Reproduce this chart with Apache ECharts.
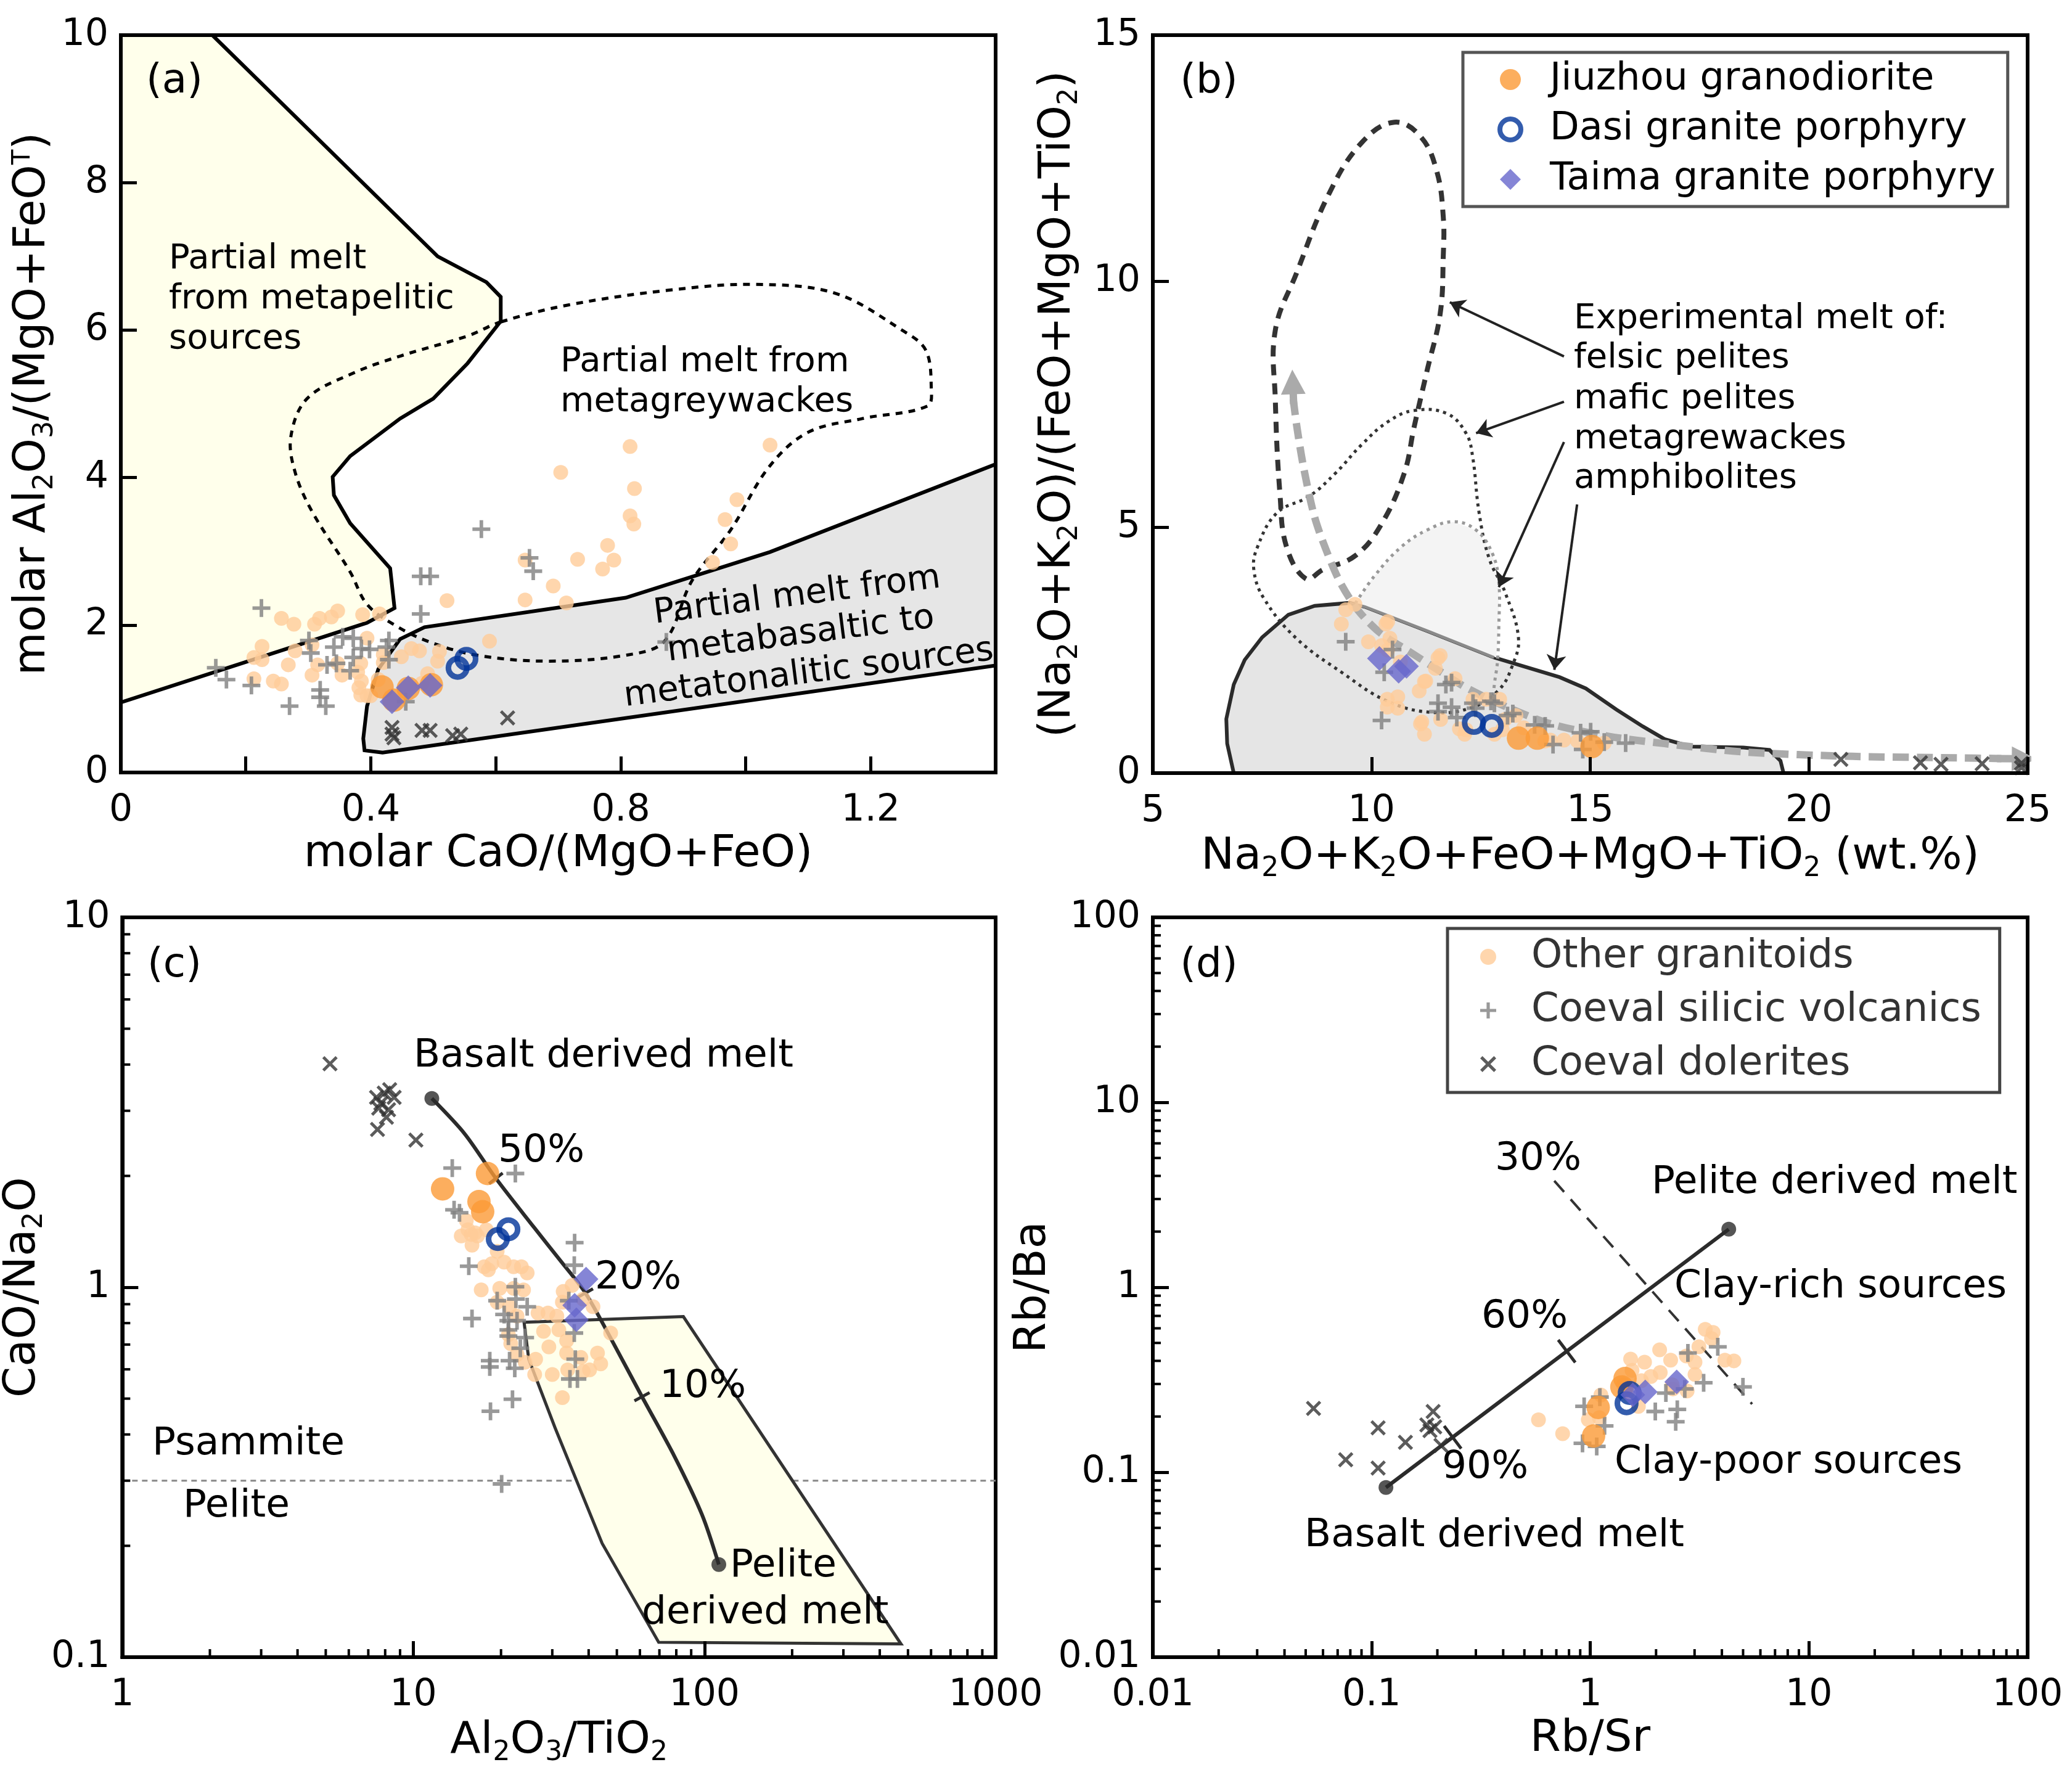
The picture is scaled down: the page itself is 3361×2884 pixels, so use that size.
<!DOCTYPE html>
<html><head><meta charset="utf-8">
<script src="https://cdn.jsdelivr.net/npm/echarts@6/dist/echarts.min.js"></script>
<style>html,body{margin:0;padding:0;background:#fff}#chart{width:3361px;height:2884px}</style>
</head><body><div id="chart"></div>
<script>
const FONT = 'DejaVu Sans';

// ---------------- Panel (a) data ----------------
const aOther = [[0.815,4.42],[1.039,4.44],[0.704,4.07],[0.822,3.85],[0.986,3.70],[0.815,3.48],[0.821,3.37],[0.967,3.43],[0.976,3.10],[0.779,3.08],[0.731,2.89],[0.789,2.88],[0.771,2.76],[0.947,2.85],[0.647,2.88],[0.692,2.53],[0.522,2.33],[0.647,2.34],[0.713,2.30],[0.590,1.78],[0.347,2.19],[0.318,2.09],[0.337,2.11],[0.387,2.14],[0.414,2.15],[0.257,2.09],[0.277,2.01],[0.310,2.01],[0.226,1.71],[0.213,1.56],[0.226,1.53],[0.279,1.65],[0.306,1.73],[0.268,1.46],[0.315,1.46],[0.213,1.27],[0.244,1.24],[0.257,1.20],[0.306,1.32],[0.354,1.32],[0.385,1.24],[0.412,1.26],[0.420,1.60],[0.394,1.82],[0.449,1.57],[0.465,1.68],[0.478,1.65],[0.510,1.64],[0.491,1.34],[0.394,1.04],[0.381,1.15],[0.420,1.49],[0.347,1.48],[0.384,1.48],[0.379,1.36],[0.384,1.05],[0.400,1.04],[0.507,1.51],[0.482,1.21]];
const aVolc = [[0.577,3.30],[0.654,2.91],[0.660,2.73],[0.480,2.66],[0.495,2.66],[0.480,2.15],[0.225,2.23],[0.873,1.77],[0.301,1.79],[0.355,1.84],[0.372,1.82],[0.429,1.79],[0.425,1.70],[0.341,1.70],[0.385,1.68],[0.398,1.67],[0.304,1.62],[0.372,1.56],[0.429,1.53],[0.330,1.46],[0.345,1.48],[0.367,1.38],[0.152,1.42],[0.169,1.26],[0.209,1.18],[0.319,1.12],[0.270,0.90],[0.328,0.90],[0.456,0.96],[0.319,1.02]];
const aDol = [[0.619,0.74],[0.434,0.61],[0.434,0.52],[0.437,0.47],[0.482,0.57],[0.495,0.57],[0.531,0.50],[0.544,0.52]];
const aJiu = [[0.418,1.16],[0.437,0.98],[0.460,1.14],[0.497,1.19]];
const aDasi = [[0.539,1.42],[0.553,1.54]];
const aTaima = [[0.434,0.96],[0.460,1.15],[0.495,1.18]];
const aPeliticField = [[0,10],[0.1465,10],[0.507,7.0],[0.585,6.65],[0.608,6.45],[0.608,6.12],[0.555,5.55],[0.50,5.07],[0.447,4.80],[0.367,4.29],[0.339,4.01],[0.341,3.76],[0.367,3.38],[0.431,2.77],[0.438,2.23],[0.394,2.03],[0,0.95]];
const aBasalticField = [[0.419,0.27],[0.39,0.30],[0.388,0.46],[0.394,0.90],[0.412,1.40],[0.447,1.81],[0.486,1.97],[0.808,2.37],[1.039,2.99],[1.4,4.18],[1.4,1.45]];
const aGreywackeField = [[0.608,6.11],[0.716,6.34],[0.876,6.54],[1.015,6.62],[1.143,6.50],[1.25,6.0],[1.288,5.73],[1.297,5.22],[1.291,4.97],[1.187,4.80],[1.099,4.61],[1.037,4.14],[0.976,3.29],[0.914,2.6],[0.87,1.78],[0.808,1.59],[0.683,1.51],[0.570,1.59],[0.491,1.78],[0.438,2.0],[0.394,2.28],[0.367,2.72],[0.306,3.54],[0.279,4.07],[0.272,4.55],[0.298,5.07],[0.373,5.42],[0.448,5.65],[0.555,5.92]];

// ---------------- Panel (b) data ----------------
const bOther = [[9.41,3.32],[9.62,3.43],[9.31,3.03],[10.33,3.03],[9.93,2.67],[10.42,2.74],[10.23,2.59],[11.52,2.34],[11.46,2.13],[10.66,2.26],[11.91,1.92],[11.21,1.86],[11.09,1.67],[10.60,1.55],[10.36,1.50],[10.60,1.32],[10.36,1.34],[11.15,1.04],[11.21,0.79],[11.58,1.09],[12.01,0.90],[12.13,0.79],[12.32,1.50],[12.62,1.50],[12.93,1.50],[12.81,0.79],[13.05,1.09],[13.30,1.17],[13.48,0.92],[14.09,0.67],[14.40,0.67],[14.71,0.65],[15.32,0.61],[10.37,3.08],[10.37,2.50],[11.57,2.39],[11.24,1.87],[11.12,1.00],[12.16,0.88],[12.99,0.88],[13.96,0.65]];
const bVolc = [[9.41,2.67],[10.29,2.05],[10.48,2.51],[11.70,1.80],[11.83,1.84],[11.52,1.42],[11.83,1.34],[11.52,1.25],[11.95,1.13],[12.32,1.42],[12.38,1.32],[12.81,1.42],[13.11,1.17],[13.23,1.21],[10.23,1.07],[13.73,0.98],[13.97,0.96],[14.15,0.58],[14.83,0.48],[15.01,0.84],[15.32,0.63],[15.81,0.61],[12.73,1.46],[14.78,0.82]];
const bDol = [[20.73,0.28],[22.55,0.21],[23.02,0.18],[23.96,0.19],[24.86,0.20],[24.86,0.11]];
const bJiu = [[13.36,0.71],[13.79,0.71],[15.04,0.54]];
const bDasi = [[12.34,1.02],[12.75,0.96]];
const bTaima = [[10.18,2.33],[10.62,2.07],[10.80,2.17]];
const bAmphField = [[6.85,0],[6.70,0.6],[6.68,1.1],[6.85,1.8],[7.1,2.3],[7.5,2.76],[8.1,3.22],[8.7,3.4],[9.5,3.46],[9.85,3.38],[11.3,2.88],[12.8,2.35],[14.3,1.95],[14.9,1.72],[15.6,1.29],[16.2,0.95],[16.7,0.69],[17.3,0.54],[18.5,0.52],[19.1,0.47],[19.35,0.25],[19.42,0]];
const bAmphLight = [[9.5,3.46],[9.85,3.38],[11.3,2.88],[12.8,2.35]];
const bFelsicField = [[8.5,3.95],[8.06,4.59],[7.91,5.63],[7.8,7.6],[7.8,9.0],[8.28,10.15],[9.03,11.78],[9.78,12.82],[10.52,13.23],[11.12,12.94],[11.49,12.24],[11.64,11.31],[11.64,10.5],[11.57,9.34],[11.27,8.18],[10.97,7.02],[10.75,6.10],[10.22,5.05],[9.63,4.42],[8.88,4.13]];
const bMaficField = [[10.97,7.37],[11.72,7.31],[12.16,6.91],[12.31,6.44],[12.46,5.29],[12.69,4.36],[13.06,3.66],[13.36,2.74],[13.21,2.16],[12.91,1.69],[12.31,1.34],[11.42,1.23],[10.37,1.46],[9.33,2.04],[8.28,2.74],[7.54,3.55],[7.31,4.13],[7.39,4.59],[7.84,5.29],[8.58,5.63],[9.18,6.10],[9.78,6.68],[10.37,7.14]];
const bGreywackeFill = [[9.63,3.45],[10.07,4.01],[10.67,4.59],[11.27,4.94],[11.87,5.11],[12.39,4.94],[12.76,4.47],[12.91,3.89],[12.91,2.97],[12.85,2.35],[11.3,2.88],[9.85,3.38]];
const bGreywackeLine = [[9.63,3.45],[10.07,4.01],[10.67,4.59],[11.27,4.94],[11.87,5.11],[12.39,4.94],[12.76,4.47],[12.91,3.89],[12.91,2.97],[12.88,2.27],[12.81,1.81],[12.76,1.34]];
const bTrendArrow = [[8.21,7.6],[8.3,7.0],[8.45,6.2],[8.7,5.2],[9.0,4.45],[9.3,3.85],[9.7,3.3],[10.2,2.85],[10.9,2.45],[11.6,2.05],[12.2,1.72],[13.1,1.34],[14.1,1.0],[15.4,0.75],[16.7,0.6],[18.5,0.43],[21,0.34],[23.4,0.31],[24.4,0.295]];
const bTrendHeads = [[[8.22,7.5],[8.2,7.95]],[[24.3,0.295],[24.92,0.29]]];
const bPointers = [[[14.4,8.47],[11.79,9.57]],[[14.4,7.55],[12.39,6.91]],[[14.4,6.73],[12.91,3.78]],[[14.7,5.46],[14.18,2.10]]];

// ---------------- Panel (c) data ----------------
const cOther = [[15.2,1.514],[14.6,1.376],[15.8,1.389],[16.3,1.403],[15.9,1.299],[17.8,1.43],[19.4,1.25],[17.5,1.136],[18.6,1.158],[20.5,1.169],[22.1,1.136],[23.5,1.136],[24.6,1.093],[17.1,0.984],[19.8,0.993],[22.1,0.993],[23.9,0.984],[19.4,0.911],[21.4,0.886],[26.8,0.852],[29.0,0.852],[31.1,0.836],[32.7,0.974],[32.5,0.911],[35.1,1.012],[38.3,0.929],[41.4,0.886],[28.0,0.760],[31.6,0.767],[29.2,0.690],[33.6,0.717],[33.6,0.664],[37.6,0.646],[42.9,0.664],[44.0,0.621],[47.6,0.752],[26.3,0.639],[24.2,0.627],[26.1,0.581],[30.0,0.581],[33.9,0.598],[38.3,0.592],[40.3,0.598],[32.5,0.503],[21.2,0.745],[21.6,0.704],[22.7,0.658],[15.4,1.43],[16.6,1.376],[18.1,1.114],[22.7,0.836]];
const cVolc = [[13.6,2.10],[22.4,2.03],[13.8,1.62],[14.4,1.59],[35.8,1.32],[35.7,1.147],[15.5,1.14],[22.4,1.003],[19.4,0.92],[22.5,0.929],[24.6,0.886],[34.2,0.92],[15.9,0.823],[20.5,0.844],[21.2,0.812],[22.7,0.812],[21.2,0.767],[21.2,0.738],[24.2,0.731],[23.3,0.684],[35.7,0.752],[18.3,0.633],[18.3,0.609],[21.4,0.633],[22.3,0.604],[36.0,0.639],[34.5,0.565],[36.6,0.565],[21.9,0.498],[18.4,0.462],[20.1,0.294]];
const cDol = [[5.17,4.02],[8.29,3.42],[7.94,3.35],[7.47,3.26],[8.59,3.26],[7.73,3.14],[8.22,3.02],[7.60,3.05],[8.08,2.88],[7.53,2.67],[10.2,2.50]];
const cJiu = [[17.97,2.03],[12.6,1.845],[16.8,1.705],[17.3,1.60]];
const cDasi = [[21.2,1.435],[19.5,1.35]];
const cTaima = [[39.2,1.052],[35.8,0.894],[36.3,0.817]];
const cPeliteField = [[24.0,0.804],[84.6,0.833],[473,0.1086],[69.6,0.1097],[44.5,0.203],[30.7,0.416],[24.9,0.64]];
const cMixCurve = [[11.57,3.24],[15,2.6],[19.2,1.97],[26,1.45],[32,1.18],[39,0.965],[48,0.72],[61,0.506],[79,0.348],[98,0.243],[112,0.178]];
const cEndMembers = [[11.57,3.24],[112,0.178]];
const cCurveTicks = [[19.2,1.97,26,1.45],[39,0.965,48,0.72],[61,0.506,79,0.348]];
const cBoundary = [[1,0.3],[1000,0.3]];
const cXMinor = [2,3,4,5,6,7,8,9,20,30,40,50,60,70,80,90,200,300,400,500,600,700,800,900];
const cYMinor = [0.2,0.3,0.4,0.5,0.6,0.7,0.8,0.9,2,3,4,5,6,7,8,9];

// ---------------- Panel (d) data ----------------
const dOther = [[0.58,0.192],[0.748,0.1616],[1.53,0.409],[2.077,0.4585],[2.332,0.4036],[3.357,0.5921],[3.646,0.5699],[3.585,0.5278],[3.141,0.4766],[2.751,0.4247],[3.014,0.3934],[4.128,0.4036],[3.014,0.3375],[2.774,0.275],[2.39,0.2821],[1.894,0.329],[1.715,0.3126],[1.553,0.3552],[1.772,0.3936],[2.09,0.346],[1.478,0.268],[1.66,0.227],[1.119,0.2613],[1.10,0.1972],[0.98,0.1922],[1.419,0.297],[2.37,0.297],[4.54,0.40]];
const dVolc = [[0.938,0.227],[1.107,0.2547],[1.163,0.178],[1.071,0.1379],[0.922,0.1433],[1.984,0.213],[2.501,0.2186],[2.46,0.1874],[3.831,0.4766],[4.993,0.2894],[2.797,0.4414],[3.301,0.3046],[2.706,0.2821],[2.218,0.268]];
const dDol = [[0.0543,0.2213],[0.1072,0.1737],[0.0762,0.1168],[0.1072,0.1054],[0.1429,0.1451],[0.1913,0.213],[0.179,0.1804],[0.1945,0.1758],[0.185,0.168],[0.2078,0.1397]];
const dJiu = [[1.443,0.321],[1.395,0.289],[1.088,0.224],[1.036,0.157]];
const dDasi = [[1.516,0.268],[1.466,0.236]];
const dTaima = [[1.566,0.262],[1.785,0.272],[2.485,0.308]];
const dMixLine = [[0.1164,0.0827],[4.3,2.06]];
const dCurveTicks = [[0.235,0.1545,4.3,2.06],[0.781,0.451,4.3,2.06]];
const dClayLine = [[0.685,3.76],[5.5,0.2336]];
const dMinor = [0.02,0.03,0.04,0.05,0.06,0.07,0.08,0.09,0.2,0.3,0.4,0.5,0.6,0.7,0.8,0.9,2,3,4,5,6,7,8,9,20,30,40,50,60,70,80,90];

// ---------------- styles ----------------
const PLUS = 'path://M4,0H6V4H10V6H6V10H4V6H0V4H4Z';
const CROSS = 'path://M1.4,0L5,3.6L8.6,0L10,1.4L6.4,5L10,8.6L8.6,10L5,6.4L1.4,10L0,8.6L3.6,5L0,1.4Z';
const STY = {
  'Other granitoids': {symbol:'circle', symbolSize:24, itemStyle:{color:'#FFCC99'}},
  'Coeval silicic volcanics': {symbol:PLUS, symbolSize:29, itemStyle:{color:'#808080'}},
  'Coeval dolerites': {symbol:CROSS, symbolSize:25, itemStyle:{color:'#333333'}},
  'Jiuzhou granodiorite': {symbol:'circle', symbolSize:38, itemStyle:{color:'#FB9A36'}},
  'Dasi granite porphyry': {symbol:'circle', symbolSize:30, itemStyle:{color:'rgba(255,255,255,0)', borderColor:'#003399', borderWidth:9}},
  'Taima granite porphyry': {symbol:'diamond', symbolSize:40, itemStyle:{color:'#6666CC'}}
};
function sc(gi, name, data) {
  const s = JSON.parse(JSON.stringify(STY[name]));
  return Object.assign({type:'scatter', name, xAxisIndex:gi, yAxisIndex:gi, data, z:3, silent:true}, s);
}
function shape(gi, pts, style, closed, smooth, z) {
  return {type:'custom', xAxisIndex:gi, yAxisIndex:gi, data:pts, silent:true, z: z||1, clip:true,
    renderItem: function(params, api) {
      if (params.dataIndex !== 0) return null;
      const points = pts.map(p => api.coord(p));
      return {type: closed ? 'polygon' : 'polyline', shape:{points, smooth: smooth||0}, style: style};
    }};
}
function minorTicks(gi, vals, axis, fixed, len) {
  return {type:'custom', xAxisIndex:gi, yAxisIndex:gi, silent:true, z:11, clip:false,
    data: vals.map(v => axis === 'x' ? [v, fixed] : [fixed, v]),
    renderItem: function(params, api) {
      const c = api.coord([api.value(0), api.value(1)]);
      const sh = axis === 'x' ? {x1:c[0], y1:c[1], x2:c[0], y2:c[1]-len} : {x1:c[0], y1:c[1], x2:c[0]+len, y2:c[1]};
      return {type:'line', shape:sh, style:{stroke:'#000', lineWidth:4}};
    }};
}
function curveTicks(gi, items, len) {
  return {type:'custom', xAxisIndex:gi, yAxisIndex:gi, silent:true, z:2, data:items,
    encode:{x:0, y:1},
    renderItem: function(params, api) {
      const p1 = api.coord([api.value(0), api.value(1)]);
      const p2 = api.coord([api.value(2), api.value(3)]);
      let dx = p2[0]-p1[0], dy = p2[1]-p1[1];
      const L = Math.sqrt(dx*dx+dy*dy); dx/=L; dy/=L;
      const px = -dy*len/2, py = dx*len/2;
      return {type:'line', shape:{x1:p1[0]-px, y1:p1[1]-py, x2:p1[0]+px, y2:p1[1]+py}, style:{stroke:'#2b2b2b', lineWidth:5}};
    }};
}

const RICH = {
  n:{fontFamily:FONT, fontSize:72, color:'#000', verticalAlign:'bottom', padding:[0,0,6,0]},
  s:{fontFamily:FONT, fontSize:44, color:'#000', verticalAlign:'bottom'},
  t:{fontFamily:FONT, fontSize:40, color:'#000', verticalAlign:'top'}
};
function logFmt(v){ return String(parseFloat(Number(v).toPrecision(4))); }
function mkAxis(gi, type, dir, o) {
  const base = {
    gridIndex:gi, type, z:10, nameLocation:'middle',
    axisLine:{show:true, onZero:false, lineStyle:{color:'#000', width:6}},
    axisTick:{show:true, inside:true, length:26, lineStyle:{color:'#000', width:5}},
    splitLine:{show:false},
    axisLabel:{fontFamily:FONT, fontSize:60, color:'#000', margin: dir === 'x' ? 32 : 20},
    nameTextStyle:{fontFamily:FONT, fontSize:72, color:'#000', rich:RICH}
  };
  if (type === 'log') { base.logBase = 10; base.axisLabel.formatter = logFmt; }
  return Object.assign(base, o);
}

const grids = [
  {left:196, top:57, width:1419, height:1196},
  {left:1870, top:57, width:1419, height:1197},
  {left:196, top:1488, width:1419, height:1200},
  {left:1870, top:1488, width:1419, height:1200}
].map(g => Object.assign(g, {show:true, borderColor:'#000', borderWidth:6, backgroundColor:'rgba(0,0,0,0)'}));

const xAxes = [
  mkAxis(0,'value','x',{min:0, max:1.4, interval:0.2, name:'{n|molar CaO/(MgO+FeO)}', nameGap:97}),
  mkAxis(1,'value','x',{min:5, max:25, interval:5, name:'{n|Na}{s|2}{n|O+K}{s|2}{n|O+FeO+MgO+TiO}{s|2}{n| (wt.%)}', nameGap:100}),
  mkAxis(2,'log','x',{min:1, max:1000, name:'{n|Al}{s|2}{n|O}{s|3}{n|/TiO}{s|2}', nameGap:100}),
  mkAxis(3,'log','x',{min:0.01, max:100, name:'{n|Rb/Sr}', nameGap:97})
];
xAxes[0].axisLabel.formatter = function(v){ const r = Math.round(v*10)/10; return Math.abs(r/0.4 - Math.round(r/0.4)) < 1e-6 ? String(r) : ''; };
const yAxes = [
  mkAxis(0,'value','y',{min:0, max:10, interval:2, name:'{n|molar Al}{s|2}{n|O}{s|3}{n|/(MgO+FeO}{t|T}{n|)}', nameGap:84}),
  mkAxis(1,'value','y',{min:0, max:15, interval:5, name:'{n|(Na}{s|2}{n|O+K}{s|2}{n|O)/(FeO+MgO+TiO}{s|2}{n|)}', nameGap:112}),
  mkAxis(2,'log','y',{min:0.1, max:10, name:'{n|CaO/Na}{s|2}{n|O}', nameGap:98}),
  mkAxis(3,'log','y',{min:0.01, max:100, name:'{n|Rb/Ba}', nameGap:118})
];

const series = [];
// (a)
series.push(shape(0, aPeliticField, {fill:'#FFFFEB', stroke:'#000', lineWidth:6}, true, 0));
series.push(shape(0, aBasalticField, {fill:'#E6E6E6', stroke:'#000', lineWidth:6}, true, 0));
series.push(shape(0, aGreywackeField, {fill:'none', stroke:'#000', lineWidth:5, lineDash:[11,10]}, true, 0.35));
// (b)
series.push(shape(1, bAmphField, {fill:'#E5E5E5', stroke:'#2b2b2b', lineWidth:6}, true, 0));
series.push(shape(1, bGreywackeFill, {fill:'#F4F4F4', stroke:'none'}, true, 0));
series.push(shape(1, bAmphLight, {fill:'none', stroke:'#8a8a8a', lineWidth:5}, false, 0));
series.push(shape(1, bFelsicField, {fill:'none', stroke:'#333', lineWidth:8, lineDash:[18,13]}, true, 0.4));
series.push(shape(1, bMaficField, {fill:'none', stroke:'#333', lineWidth:5, lineDash:[5,7]}, true, 0.4));
series.push(shape(1, bGreywackeLine, {fill:'none', stroke:'#999', lineWidth:5, lineDash:[5,7]}, false, 0.4));
series.push(shape(1, bTrendArrow, {fill:'none', stroke:'#AAAAAA', lineWidth:12, lineDash:[26,13]}, false, 0.3));
series.push({type:'lines', coordinateSystem:'cartesian2d', xAxisIndex:1, yAxisIndex:1, silent:true, z:1,
  data: bTrendHeads.map(c => ({coords:c})), symbol:['none','triangle'], symbolSize:[30,40],
  lineStyle:{color:'#AAAAAA', width:12, opacity:1}});
series.push({type:'lines', coordinateSystem:'cartesian2d', xAxisIndex:1, yAxisIndex:1, silent:true, z:1,
  data: bPointers.map(c => ({coords:c})), symbol:['none','arrow'], symbolSize:24,
  lineStyle:{color:'#222', width:4, opacity:1}});
// (c)
series.push(shape(2, cBoundary, {fill:'none', stroke:'#888', lineWidth:3, lineDash:[9,7]}, false, 0));
series.push(shape(2, cPeliteField, {fill:'#FFFFEB', stroke:'#333', lineWidth:5}, true, 0));
series.push(shape(2, cMixCurve, {fill:'none', stroke:'#2b2b2b', lineWidth:6}, false, 0.3));
series.push(curveTicks(2, cCurveTicks, 28));
series.push({type:'scatter', name:'end-member', xAxisIndex:2, yAxisIndex:2, data:cEndMembers, symbol:'circle', symbolSize:24, itemStyle:{color:'#2b2b2b'}, z:2, silent:true});
series.push(minorTicks(2, cXMinor, 'x', 0.1, 13));
series.push(minorTicks(2, cYMinor, 'y', 1, 13));
// (d)
series.push(shape(3, dMixLine, {fill:'none', stroke:'#2b2b2b', lineWidth:6}, false, 0));
series.push(shape(3, dClayLine, {fill:'none', stroke:'#333', lineWidth:4, lineDash:[24,16]}, false, 0));
series.push(curveTicks(3, dCurveTicks, 46));
series.push({type:'scatter', name:'end-member', xAxisIndex:3, yAxisIndex:3, data:dMixLine, symbol:'circle', symbolSize:24, itemStyle:{color:'#2b2b2b'}, z:2, silent:true});
series.push(minorTicks(3, dMinor, 'x', 0.01, 13));
series.push(minorTicks(3, dMinor, 'y', 0.01, 13));

const panels = [
  [aOther,aVolc,aDol,aJiu,aDasi,aTaima],
  [bOther,bVolc,bDol,bJiu,bDasi,bTaima],
  [cOther,cVolc,cDol,cJiu,cDasi,cTaima],
  [dOther,dVolc,dDol,dJiu,dDasi,dTaima]
];
const names = ['Other granitoids','Coeval silicic volcanics','Coeval dolerites','Jiuzhou granodiorite','Dasi granite porphyry','Taima granite porphyry'];
panels.forEach((arrs, gi) => arrs.forEach((d, k) => series.push(sc(gi, names[k], d))));

function txt(text, x, y, size, align, rot) {
  return {type:'text', x, y, rotation: rot ? rot*Math.PI/180 : 0, z:100, silent:true,
    style:{text, x:0, y:0, fontSize:size, fontFamily:FONT, fill:'#000',
      align: align||'left', verticalAlign:'middle', textAlign: align||'left', textVerticalAlign:'middle'}};
}
const graphics = [
  txt('(a)',283,133,66,'center'), txt('(b)',1961,133,66,'center'), txt('(c)',283,1567,66,'center'), txt('(d)',1961,1567,66,'center'),
  txt('Partial melt',274,420,56), txt('from metapelitic',274,485,56), txt('sources',274,550,56),
  txt('Partial melt from',909,587,56), txt('metagreywackes',909,652,56),
  txt('Partial melt from',1293,967,56,'center',7.2), txt('metabasaltic to',1299,1030,56,'center',7.2), txt('metatonalitic sources',1312,1093,56,'center',7.2),
  txt('Experimental melt of:',2553,517,56), txt('felsic pelites',2553,581,56), txt('mafic pelites',2553,647,56), txt('metagrewackes',2553,712,56), txt('amphibolites',2553,776,56),
  txt('Basalt derived melt',671,1714,63), txt('50%',808,1868,63), txt('20%',965,2074,63), txt('10%',1070,2250,63),
  txt('Psammite',247,2343,63), txt('Pelite',297,2444,63), txt('Pelite',1184,2541,63), txt('derived melt',1041,2617,63),
  txt('30%',2425,1881,63), txt('Pelite derived melt',2679,1919,63), txt('Clay-rich sources',2716,2088,63), txt('60%',2403,2137,63),
  txt('90%',2339,2381,63), txt('Clay-poor sources',2619,2373,63), txt('Basalt derived melt',2116,2492,63)
];

const option = {
  animation:false,
  backgroundColor:'#fff',
  textStyle:{fontFamily:FONT},
  grid: grids, xAxis: xAxes, yAxis: yAxes, series,
  legend:[
    {data:[
       {name:'Jiuzhou granodiorite'},
       {name:'Dasi granite porphyry', itemStyle:{color:'rgba(255,255,255,0)', borderColor:'#003399', borderWidth:8}},
       {name:'Taima granite porphyry'}],
     orient:'vertical', left:2373, top:85,
     padding:[12,20,12,56], itemGap:17, itemWidth:34, itemHeight:34, borderColor:'#555', borderWidth:5, selectedMode:false,
     textStyle:{fontFamily:FONT, fontSize:62, color:'#000', lineHeight:64, padding:[0,0,0,42]}},
    {data:['Other granitoids','Coeval silicic volcanics','Coeval dolerites'], orient:'vertical', left:2348, top:1506,
     padding:[14,30,14,53], itemGap:23, itemWidth:26, itemHeight:26, borderColor:'#444', borderWidth:5, selectedMode:false,
     textStyle:{fontFamily:FONT, fontSize:64, color:'#333', lineHeight:64, padding:[0,0,0,52]}}
  ],
  graphic: graphics
};
const chart = echarts.init(document.getElementById('chart'), null, {width:3361, height:2884});
chart.setOption(option);
</script></body></html>
